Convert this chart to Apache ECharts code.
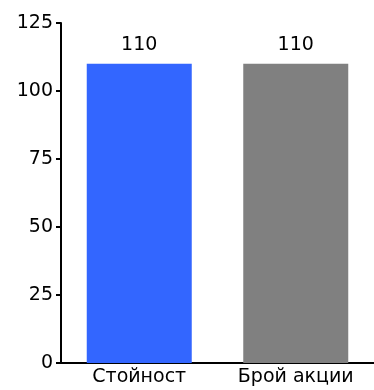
<!DOCTYPE html>
<html>
<head>
<meta charset="utf-8">
<script src="https://cdn.jsdelivr.net/npm/echarts@6/dist/echarts.min.js"></script>
<style>
  html, body { margin: 0; padding: 0; background: #fff; }
  #chart { width: 374px; height: 390px; }
</style>
</head>
<body>
<div id="chart"></div>
<script>
const categories = ["Стойност", "Брой акции"];
const values = [110, 110];
const bar_colors = ["#3366ff", "#808080"];
const y_ticks = [0, 25, 50, 75, 100, 125];

const font = "DejaVu Sans";
const chart = echarts.init(document.getElementById("chart"), null, { renderer: "canvas" });

chart.setOption({
  animation: false,
  grid: { left: 61, top: 23, width: 318, bottom: 27 },
  xAxis: {
    type: "category",
    data: categories,
    axisLine: { lineStyle: { color: "#000", width: 2 } },
    axisTick: { show: false },
    axisLabel: { color: "#000", fontFamily: font, fontSize: 19, margin: 5 }
  },
  yAxis: {
    type: "value",
    min: y_ticks[0],
    max: y_ticks[y_ticks.length - 1],
    interval: 25,
    splitLine: { show: false },
    axisLine: { show: true, lineStyle: { color: "#000", width: 2 } },
    axisTick: { show: true, length: 5, lineStyle: { color: "#000", width: 2 } },
    axisLabel: { color: "#000", fontFamily: font, fontSize: 19, margin: 8, padding: [0, 0, 7, 0] }
  },
  series: [{
    type: "bar",
    barWidth: 105,
    data: values.map((v, i) => ({ value: v, itemStyle: { color: bar_colors[i] } })),
    label: { show: true, position: "top", distance: 9, color: "#000", fontFamily: font, fontSize: 19 }
  }]
});
</script>
</body>
</html>
